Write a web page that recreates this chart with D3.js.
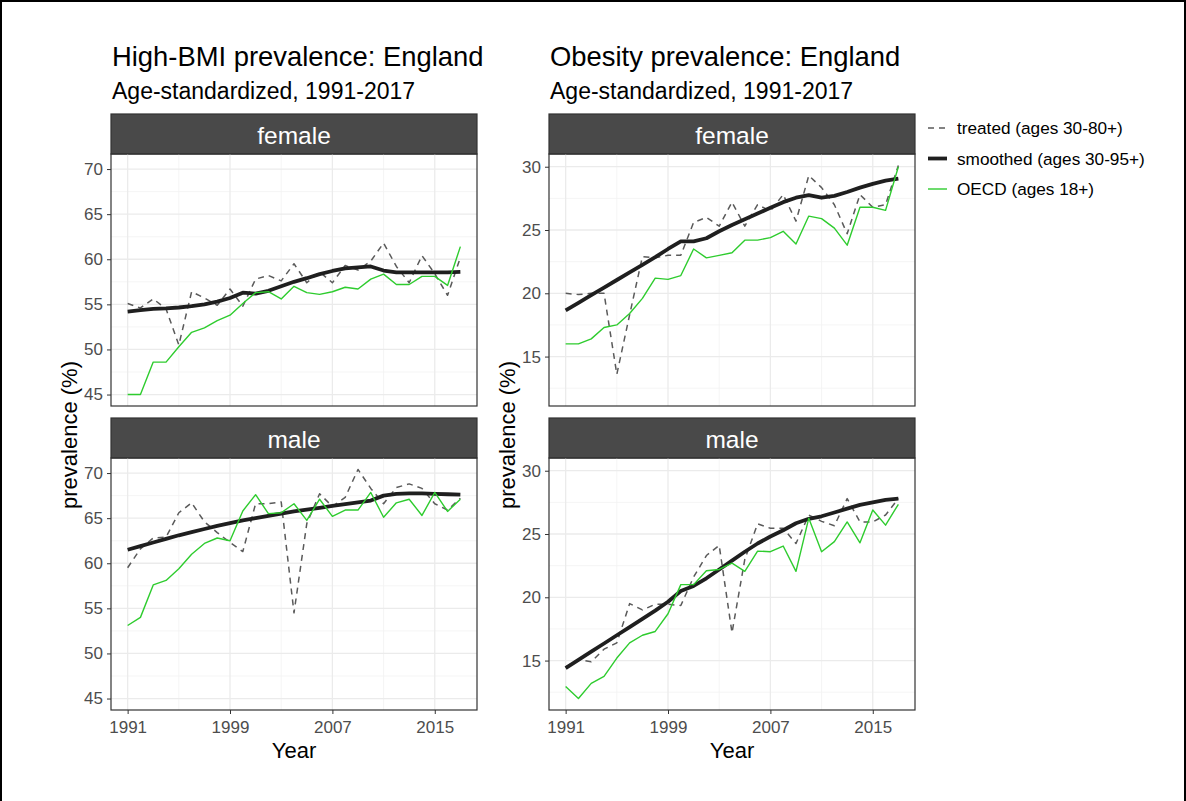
<!DOCTYPE html>
<html>
<head>
<meta charset="utf-8">
<script src="https://cdn.jsdelivr.net/npm/d3@7"></script>
<style>
  body { margin: 0; background: #fff; }
  text { font-family: "Liberation Sans", Arial, sans-serif; }
</style>
</head>
<body>
<svg id="chart" width="1186" height="801"></svg>
<script>
// years 1991-2017
const years = d3.range(1991, 2018);
const sexes = ['female', 'male'];
const xTicks = [1991, 1999, 2007, 2015];
const bmiTicks = [45, 50, 55, 60, 65, 70];
const obesityTicks = [15, 20, 25, 30];
const seriesNames = ['treated (ages 30-80+)', 'smoothed (ages 30-95+)', 'OECD (ages 18+)'];

// High-BMI prevalence (%)
const bmiFemaleTreated = [55.1, 54.6, 55.6, 54.5, 50.5, 56.4, 55.7, 54.9, 56.7, 54.8, 57.8, 58.2, 57.6, 59.5, 57.4, 58.6, 57.4, 59.3, 58.8, 59.8, 61.8, 59.2, 57.4, 60.4, 58.4, 56.0, 60.2];
const bmiFemaleSmoothed = [54.2, 54.35, 54.5, 54.55, 54.65, 54.8, 55.0, 55.3, 55.7, 56.3, 56.2, 56.5, 57.0, 57.5, 57.9, 58.35, 58.7, 59.0, 59.1, 59.2, 58.75, 58.55, 58.55, 58.55, 58.55, 58.55, 58.6];
const bmiFemaleOecd = [45.0, 45.0, 48.6, 48.6, 50.3, 51.9, 52.4, 53.2, 53.8, 55.1, 56.3, 56.4, 55.6, 57.0, 56.3, 56.1, 56.4, 56.9, 56.7, 57.8, 58.35, 57.2, 57.2, 58.1, 58.1, 57.1, 61.4];
const bmiMaleTreated = [59.5, 61.6, 62.8, 62.9, 65.6, 66.7, 64.6, 63.4, 62.3, 61.3, 66.6, 66.6, 66.8, 54.5, 64.4, 67.7, 66.3, 67.3, 70.4, 68.3, 66.6, 68.4, 68.8, 68.3, 66.6, 65.9, 67.2];
const bmiMaleSmoothed = [61.5, 61.9, 62.3, 62.7, 63.1, 63.45, 63.8, 64.15, 64.45, 64.75, 65.0, 65.25, 65.5, 65.75, 65.95, 66.15, 66.35, 66.55, 66.75, 66.95, 67.5, 67.7, 67.75, 67.75, 67.7, 67.65, 67.6];
const bmiMaleOecd = [53.1, 54.0, 57.6, 58.1, 59.4, 61.0, 62.2, 62.8, 62.5, 65.8, 67.6, 65.5, 65.6, 66.6, 64.75, 67.1, 65.2, 65.9, 65.9, 67.85, 65.1, 66.7, 67.1, 65.3, 67.85, 65.75, 67.1];

// Obesity prevalence (%)
const obFemaleTreated = [20.0, 19.9, 20.0, 20.0, 13.6, 18.3, 22.9, 22.8, 23.0, 23.0, 25.6, 26.0, 25.3, 27.2, 25.3, 27.0, 26.5, 27.8, 25.7, 29.3, 28.35, 27.0, 24.7, 27.8, 26.8, 27.0, 30.1];
const obFemaleSmoothed = [18.65, 19.25, 19.85, 20.45, 21.05, 21.65, 22.25, 22.85, 23.5, 24.1, 24.1, 24.35, 24.9, 25.4, 25.85, 26.3, 26.75, 27.2, 27.55, 27.75, 27.55, 27.7, 28.0, 28.35, 28.65, 28.9, 29.05];
const obFemaleOecd = [16.0, 16.0, 16.4, 17.3, 17.5, 18.4, 19.6, 21.2, 21.1, 21.4, 23.5, 22.8, 23.0, 23.2, 24.2, 24.2, 24.4, 24.9, 23.9, 26.1, 25.9, 25.15, 23.8, 26.8, 26.8, 26.55, 30.0];
const obMaleTreated = [14.5, 15.1, 14.9, 15.9, 16.4, 19.5, 19.0, 19.45, 19.45, 19.35, 21.6, 23.3, 24.1, 17.2, 23.0, 25.8, 25.45, 25.45, 24.25, 26.5, 26.0, 25.65, 27.8, 25.95, 25.95, 26.5, 27.8];
const obMaleSmoothed = [14.4, 15.05, 15.7, 16.35, 17.0, 17.65, 18.3, 18.95, 19.65, 20.5, 20.9, 21.5, 22.2, 22.9, 23.6, 24.25, 24.8, 25.3, 25.85, 26.2, 26.4, 26.7, 27.0, 27.3, 27.5, 27.7, 27.8];
const obMaleOecd = [12.95, 12.0, 13.2, 13.75, 15.2, 16.4, 17.0, 17.3, 18.7, 21.0, 21.0, 22.1, 22.2, 22.7, 22.05, 23.65, 23.6, 24.05, 22.05, 26.25, 23.6, 24.4, 25.95, 24.3, 26.9, 25.7, 27.35];

const svg = d3.select('#chart');
svg.append('rect').attr('width', 1186).attr('height', 801).attr('fill', '#fff');
// frame of the screenshot
svg.append('path').attr('d', 'M1,801V1H1185V801').attr('fill', 'none').attr('stroke', '#000').attr('stroke-width', 2);

const styles = [
  { color: '#5a5a5a', width: 1.5, dash: '6,5' },
  { color: '#1f1f1f', width: 3.8, dash: null },
  { color: '#2ecc2e', width: 1.4, dash: null }
];

const columns = [
  {
    title: 'High-BMI prevalence: England', left: 111, ticks: bmiTicks,
    data: { female: [bmiFemaleTreated, bmiFemaleSmoothed, bmiFemaleOecd], male: [bmiMaleTreated, bmiMaleSmoothed, bmiMaleOecd] }
  },
  {
    title: 'Obesity prevalence: England', left: 549, ticks: obesityTicks,
    data: { female: [obFemaleTreated, obFemaleSmoothed, obFemaleOecd], male: [obMaleTreated, obMaleSmoothed, obMaleOecd] }
  }
];

const panelW = 366, stripH = 40, panelH = 252;
const rowTops = [114, 418];

function expand([a, b]) {
  const p = (b - a) * 0.05;
  return [a - p, b + p];
}

columns.forEach((col) => {
  const x = d3.scaleLinear().domain(expand(d3.extent(years))).range([col.left, col.left + panelW]);
  const all = sexes.flatMap((s) => col.data[s].flat());
  const yDomain = expand(d3.extent(all));

  svg.append('text').attr('x', col.left + 1).attr('y', 66)
    .attr('font-size', 27.4).attr('fill', '#000').text(col.title);
  svg.append('text').attr('x', col.left + 1).attr('y', 99)
    .attr('font-size', 23).attr('fill', '#000').text('Age-standardized, 1991-2017');

  // y axis title
  svg.append('text')
    .attr('transform', `translate(${col.left - 34},${(rowTops[0] + stripH + rowTops[1] + stripH + panelH) / 2 + 3}) rotate(-90)`)
    .attr('text-anchor', 'middle').attr('font-size', 22).attr('fill', '#000')
    .text('prevalence (%)');

  sexes.forEach((sex, r) => {
    const top = rowTops[r] + stripH;
    const y = d3.scaleLinear().domain(yDomain).range([top + panelH, top]);

    // strip
    svg.append('rect').attr('x', col.left).attr('y', rowTops[r]).attr('width', panelW).attr('height', stripH)
      .attr('fill', '#494949').attr('stroke', '#333').attr('stroke-width', 1.2);
    svg.append('text').attr('x', col.left + panelW / 2).attr('y', rowTops[r] + stripH / 2 + 1)
      .attr('text-anchor', 'middle').attr('dominant-baseline', 'central')
      .attr('font-size', 24.5).attr('fill', '#fff').text(sex);

    const g = svg.append('g');
    // minor grid
    const xMinor = xTicks.slice(0, -1).map((t, i) => (t + xTicks[i + 1]) / 2);
    const step = col.ticks[1] - col.ticks[0];
    const yMinor = [col.ticks[0] - step / 2, ...col.ticks.map((t) => t + step / 2)]
      .filter((v) => v > yDomain[0] && v < yDomain[1]);
    g.selectAll('.xminor').data(xMinor).join('line')
      .attr('x1', (d) => x(d)).attr('x2', (d) => x(d)).attr('y1', top).attr('y2', top + panelH)
      .attr('stroke', '#f2f2f2').attr('stroke-width', 0.8);
    g.selectAll('.yminor').data(yMinor).join('line')
      .attr('x1', col.left).attr('x2', col.left + panelW).attr('y1', (d) => y(d)).attr('y2', (d) => y(d))
      .attr('stroke', '#f2f2f2').attr('stroke-width', 0.8);
    // major grid
    g.selectAll('.xmajor').data(xTicks).join('line')
      .attr('x1', (d) => x(d)).attr('x2', (d) => x(d)).attr('y1', top).attr('y2', top + panelH)
      .attr('stroke', '#ebebeb').attr('stroke-width', 1.3);
    g.selectAll('.ymajor').data(col.ticks).join('line')
      .attr('x1', col.left).attr('x2', col.left + panelW).attr('y1', (d) => y(d)).attr('y2', (d) => y(d))
      .attr('stroke', '#ebebeb').attr('stroke-width', 1.3);

    // series lines
    const line = d3.line().x((d, i) => x(years[i])).y((d) => y(d));
    col.data[sex].forEach((vals, k) => {
      svg.append('path').datum(vals).attr('d', line)
        .attr('fill', 'none').attr('stroke', styles[k].color).attr('stroke-width', styles[k].width)
        .attr('stroke-dasharray', styles[k].dash).attr('stroke-linejoin', 'round');
    });

    // panel border
    svg.append('rect').attr('x', col.left).attr('y', top).attr('width', panelW).attr('height', panelH)
      .attr('fill', 'none').attr('stroke', '#333').attr('stroke-width', 1.2);

    // y axis
    const ya = svg.append('g').attr('transform', `translate(${col.left},0)`)
      .call(d3.axisLeft(y).tickValues(col.ticks).tickSize(4).tickPadding(4));
    ya.select('.domain').remove();
    ya.selectAll('line').attr('stroke', '#333');
    ya.selectAll('text').attr('font-size', 17).attr('fill', '#4d4d4d').attr('font-family', null);

    if (r === 1) {
      const xa = svg.append('g').attr('transform', `translate(0,${top + panelH})`)
        .call(d3.axisBottom(x).tickValues(xTicks).tickFormat(d3.format('d')).tickSize(4).tickPadding(7));
      xa.select('.domain').remove();
      xa.selectAll('line').attr('stroke', '#333');
      xa.selectAll('text').attr('font-size', 17).attr('fill', '#4d4d4d').attr('font-family', null);
      svg.append('text').attr('x', col.left + panelW / 2).attr('y', 758)
        .attr('text-anchor', 'middle').attr('font-size', 22).attr('fill', '#000').text('Year');
    }
  });
});

// legend
const legend = svg.append('g').attr('transform', 'translate(928,128)');
seriesNames.forEach((name, k) => {
  const row = legend.append('g').attr('transform', `translate(0,${k * 30.5})`);
  row.append('line').attr('x1', 0).attr('x2', 19).attr('y1', 0).attr('y2', 0)
    .attr('stroke', styles[k].color).attr('stroke-width', styles[k].width)
    .attr('stroke-dasharray', styles[k].dash);
  row.append('text').attr('x', 29).attr('y', 0).attr('dominant-baseline', 'central')
    .attr('font-size', 17.2).attr('fill', '#000').text(name);
});
</script>
</body>
</html>
